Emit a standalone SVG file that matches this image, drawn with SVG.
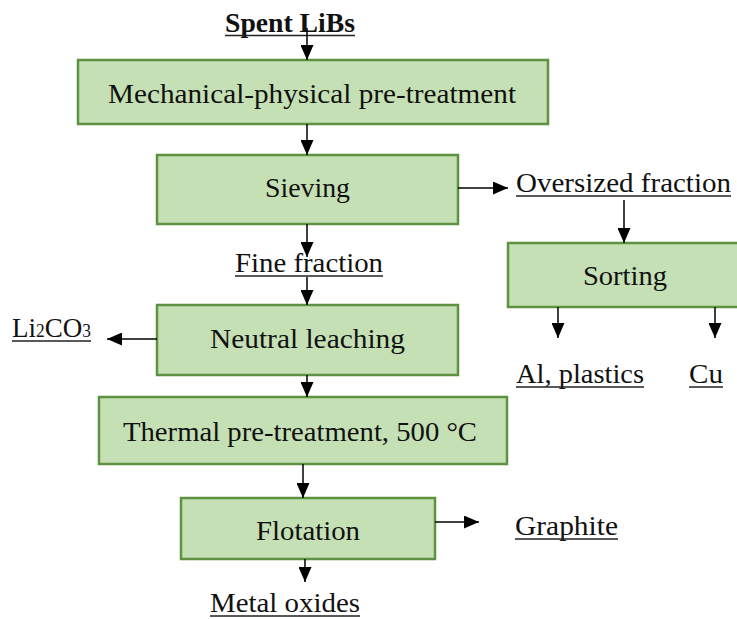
<svg xmlns="http://www.w3.org/2000/svg" width="737" height="619" viewBox="0 0 737 619">
  <style>
    .box { fill: #c5e0b4; stroke: #5e9140; stroke-width: 2.5; }
    .t { font-family: "Liberation Serif", "Times New Roman", serif; font-size: 28px; fill: #111; }
    .c { text-anchor: middle; }
    .b { font-weight: bold; }
    .ul { stroke: #222; stroke-width: 1.3; }
    .conn line { stroke: #000; stroke-width: 1.5; marker-end: url(#arrow); }
  </style>
  <defs>
    <marker id="arrow" markerUnits="userSpaceOnUse" markerWidth="15" markerHeight="13" refX="15" refY="6.5" orient="auto">
      <path d="M0,0 L15,6.5 L0,13 z" fill="#000"/>
    </marker>
  </defs>

  <rect width="737" height="619" fill="#fff"/>

  <!-- process steps -->
  <g id="mechanical">
    <rect class="box" x="78" y="60" width="470" height="64"/>
    <text class="t c" x="312" y="103" textLength="408" lengthAdjust="spacingAndGlyphs">Mechanical-physical pre-treatment</text>
  </g>
  <g id="sieving">
    <rect class="box" x="157" y="155" width="301" height="69"/>
    <text class="t c" x="307.5" y="197" textLength="85" lengthAdjust="spacingAndGlyphs">Sieving</text>
  </g>
  <g id="sorting">
    <rect class="box" x="508" y="243" width="240" height="64"/>
    <text class="t c" x="625" y="285" textLength="84" lengthAdjust="spacingAndGlyphs">Sorting</text>
  </g>
  <g id="leaching">
    <rect class="box" x="157" y="305" width="301" height="70"/>
    <text class="t c" x="307.5" y="348" textLength="195" lengthAdjust="spacingAndGlyphs">Neutral leaching</text>
  </g>
  <g id="thermal">
    <rect class="box" x="99" y="397" width="408" height="67"/>
    <text class="t c" x="300" y="441" textLength="354" lengthAdjust="spacingAndGlyphs">Thermal pre-treatment, 500 °C</text>
  </g>
  <g id="flotation">
    <rect class="box" x="181" y="498" width="254" height="61"/>
    <text class="t c" x="308" y="540" textLength="104" lengthAdjust="spacingAndGlyphs">Flotation</text>
  </g>

  <!-- streams (underlined labels) -->
  <g id="spent-libs">
    <text class="t b" x="225" y="32" textLength="130" lengthAdjust="spacingAndGlyphs">Spent LiBs</text>
    <line class="ul" x1="225" y1="35.5" x2="355" y2="35.5"/>
  </g>
  <g id="oversized">
    <text class="t" x="516" y="192" textLength="215" lengthAdjust="spacingAndGlyphs">Oversized fraction</text>
    <line class="ul" x1="516" y1="196" x2="731" y2="196"/>
  </g>
  <g id="fine">
    <text class="t" x="235" y="272" textLength="148" lengthAdjust="spacingAndGlyphs">Fine fraction</text>
    <line class="ul" x1="235" y1="276" x2="383" y2="276"/>
  </g>
  <g id="li2co3">
    <text class="t" x="12" y="337" textLength="79" lengthAdjust="spacingAndGlyphs">Li<tspan font-size="18">2</tspan>CO<tspan font-size="18">3</tspan></text>
    <line class="ul" x1="12" y1="341" x2="91" y2="341"/>
  </g>
  <g id="al-plastics">
    <text class="t" x="516" y="383" textLength="128" lengthAdjust="spacingAndGlyphs">Al, plastics</text>
    <line class="ul" x1="516" y1="387" x2="644" y2="387"/>
  </g>
  <g id="cu">
    <text class="t" x="689" y="383" textLength="34" lengthAdjust="spacingAndGlyphs">Cu</text>
    <line class="ul" x1="689" y1="387" x2="723" y2="387"/>
  </g>
  <g id="graphite">
    <text class="t" x="515" y="535" textLength="103" lengthAdjust="spacingAndGlyphs">Graphite</text>
    <line class="ul" x1="515" y1="539" x2="618" y2="539"/>
  </g>
  <g id="metal-oxides">
    <text class="t" x="210" y="612" textLength="150" lengthAdjust="spacingAndGlyphs">Metal oxides</text>
    <line class="ul" x1="210" y1="616" x2="360" y2="616"/>
  </g>

  <!-- connectors -->
  <g id="connectors" class="conn">
    <line x1="307" y1="28" x2="307" y2="60"/>
    <line x1="307" y1="124" x2="307" y2="155"/>
    <line x1="458" y1="188" x2="508" y2="188"/>
    <line x1="307" y1="224" x2="307" y2="257"/>
    <line x1="307" y1="277" x2="307" y2="305"/>
    <line x1="624" y1="200" x2="624" y2="243"/>
    <line x1="157" y1="339" x2="107" y2="339"/>
    <line x1="558" y1="307" x2="558" y2="338"/>
    <line x1="715" y1="307" x2="715" y2="338"/>
    <line x1="307" y1="375" x2="307" y2="397"/>
    <line x1="303" y1="464" x2="303" y2="498"/>
    <line x1="435" y1="522" x2="479" y2="522"/>
    <line x1="305" y1="559" x2="305" y2="582"/>
  </g>
</svg>
